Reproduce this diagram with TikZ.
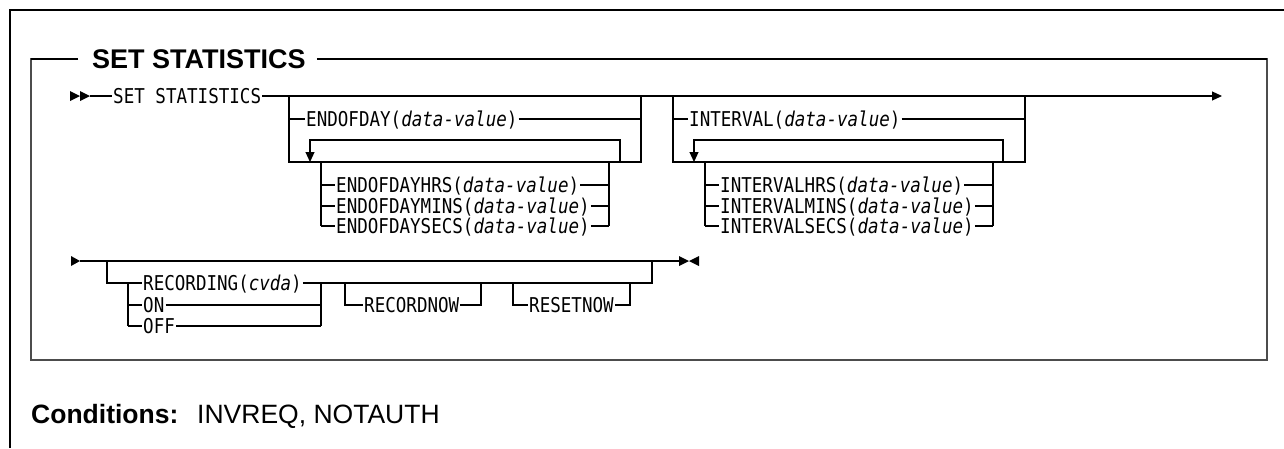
\documentclass[tikz,border=0pt]{standalone}
\usepackage{fontspec}
\setmainfont{Liberation Sans}
\newfontfamily\railfont[FakeStretch=0.86]{DejaVu Sans Mono}
\usetikzlibrary{arrows.meta}

\begin{document}
\begin{tikzpicture}[x=1pt,y=-1pt,
  rail/.style={line width=1.1pt},
  kw/.style={font=\railfont\fontsize{20.4}{23}\selectfont,anchor=west,
    inner xsep=1pt,inner ysep=0pt,text height=14.9pt,text depth=0pt},
  tip/.style={-{Triangle[length=10pt,width=9pt]}},
  frame/.style={line width=2pt,black!70}]
\useasboundingbox (0,0) rectangle (1284,448);
% page frame and syntax box
\draw[line width=1.5pt] (10,448)--(10,10)--(1284,10);
\node[font=\bfseries\fontsize{27}{32}\selectfont,anchor=west,inner sep=0pt,
  text height=19.4pt,text depth=0pt] (title) at (92,59) {SET STATISTICS};
\coordinate (tl) at ([xshift=-14pt]title.west);
\coordinate (tr) at ([xshift=11pt]title.east);
\draw[frame] (tl)--(31,59)--(31,360)--(1267,360)--(1267,59)--(tr);
\draw[line width=2pt] (tl)--(31,59) (tr)--(1267,59);

% first line
\fill (70,91)--(80,96)--(70,101)--cycle;
\fill (80,91)--(90,96)--(80,101)--cycle;
\node[kw] (set) at (112,96) {SET STATISTICS};
\draw[rail] (90,96)--(set.west);
\draw[rail,tip] (set.east)--(1222,96);

% ENDOFDAY
\node[kw] (eod) at (305,119) {ENDOFDAY(\textit{data-value})};
\draw[rail] (289,96)--(289,162)--(641,162)--(641,96);
\draw[rail] (289,119)--(eod.west) (eod.east)--(641,119);
\draw[rail,tip] (620,162)--(620,140)--(310,140)--(310,162);
\draw[rail] (321,162)--(321,226) (609,162)--(609,226);
\foreach \y/\nm/\txt in {185/eodh/ENDOFDAYHRS,206/eodm/ENDOFDAYMINS,226/eods/ENDOFDAYSECS}{
  \node[kw] (\nm) at (335,\y) {\txt(\textit{data-value})};
  \draw[rail] (321,\y)--(\nm.west) (\nm.east)--(609,\y);}

% INTERVAL
\node[kw] (int) at (688,119) {INTERVAL(\textit{data-value})};
\draw[rail] (673,96)--(673,162)--(1025,162)--(1025,96);
\draw[rail] (673,119)--(int.west) (int.east)--(1025,119);
\draw[rail,tip] (1003,162)--(1003,140)--(694,140)--(694,162);
\draw[rail] (705,162)--(705,226) (993,162)--(993,226);
\foreach \y/\nm/\txt in {185/inth/INTERVALHRS,206/intm/INTERVALMINS,226/ints/INTERVALSECS}{
  \node[kw] (\nm) at (719,\y) {\txt(\textit{data-value})};
  \draw[rail] (705,\y)--(\nm.west) (\nm.east)--(993,\y);}

% second line
\fill (71,256)--(80,261)--(71,266)--cycle;
\draw[rail] (80,261)--(679,261);
\fill (679,256)--(689,261)--(679,266)--cycle;
\fill (699,256)--(689,261)--(699,266)--cycle;
\node[kw] (rec) at (142,283) {RECORDING(\textit{cvda})};
\node[kw] (on) at (142,305) {ON};
\node[kw] (off) at (142,326) {OFF};
\draw[rail] (107,261)--(107,283)--(rec.west) (rec.east)--(652,283)--(652,261);
\draw[rail] (128,283)--(128,326) (321,283)--(321,326);
\draw[rail] (128,305)--(on.west) (on.east)--(321,305);
\draw[rail] (128,326)--(off.west) (off.east)--(321,326);
\node[kw] (rnow) at (363,305) {RECORDNOW};
\draw[rail] (345,283)--(345,305)--(rnow.west) (rnow.east)--(481,305)--(481,283);
\node[kw] (snow) at (528,305) {RESETNOW};
\draw[rail] (513,283)--(513,305)--(snow.west) (snow.east)--(630,305)--(630,283);

% conditions
\node[font=\bfseries\fontsize{26.5}{32}\selectfont,anchor=base west,inner sep=0pt] (cond) at (31,423) {Conditions:};
\node[font=\fontsize{26.5}{32}\selectfont,anchor=base west,inner sep=0pt] (condlist) at (197,423) {INVREQ, NOTAUTH};
\end{tikzpicture}
\end{document}
